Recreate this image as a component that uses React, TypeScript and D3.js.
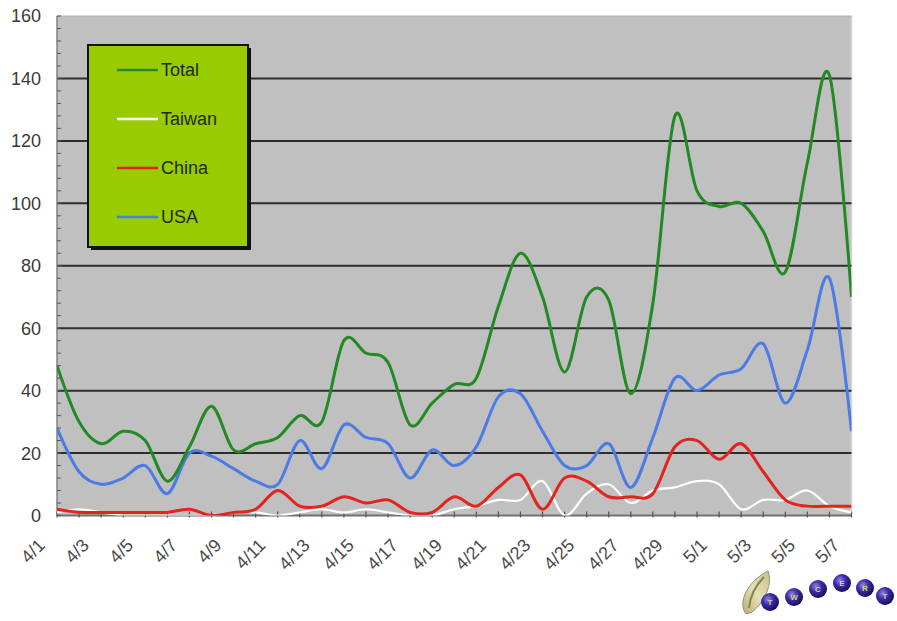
import React from "react";
import * as d3 from "d3";

// Daily counts, 4/1 – 5/7
const dates = [
  "4/1","4/2","4/3","4/4","4/5","4/6","4/7","4/8","4/9","4/10",
  "4/11","4/12","4/13","4/14","4/15","4/16","4/17","4/18","4/19","4/20",
  "4/21","4/22","4/23","4/24","4/25","4/26","4/27","4/28","4/29","4/30",
  "5/1","5/2","5/3","5/4","5/5","5/6","5/7",
];
const total = [48,30,23,27,24,11,22,35,21,23,25,32,30,56,52,49,29,36,42,44,67,84,70,46,70,69,39,68,128,104,99,100,91,78,113,141,70];
const taiwan = [1,2,1,0,0,0,0,0,1,1,0,1,2,1,2,1,0,0,2,3,5,5,11,0,7,10,4,8,9,11,10,2,5,5,8,3,1];
const china = [2,1,1,1,1,1,2,0,1,2,8,3,3,6,4,5,1,1,6,3,9,13,2,12,11,6,6,7,22,24,18,23,14,5,3,3,3];
const usa = [28,14,10,12,16,7,20,19,15,11,10,24,15,29,25,23,12,21,16,22,38,39,27,16,16,23,9,25,44,40,45,47,55,36,53,76,27];

const yTicks = [0, 20, 40, 60, 80, 100, 120, 140, 160];
const yMinor = d3.range(0, 161, 4);
const xLabels = dates.filter((_, i) => i % 2 === 0);

const seriesNames = ["Total", "Taiwan", "China", "USA"];
const seriesValues = [total, taiwan, china, usa];
const seriesColors = ["#238a23", "#ffffff", "#e3231d", "#4b7be4"];
const seriesWidths = [3, 2.2, 3, 3];

const logoLetters = ["T", "W", "C", "E", "R", "T"];

const W = 897;
const H = 621;
const left = 57;
const right = 851.5;
const top = 16;
const bottom = 515.5;

export default function App() {
  const x = d3.scalePoint<string>().domain(dates).range([left, right]);
  const y = d3.scaleLinear().domain([0, 160]).range([bottom, top]);
  const line = d3
    .line<number>()
    .x((_, i) => x(dates[i]) as number)
    .y((d) => y(d))
    .curve(d3.curveCardinal.tension(0));

  const font = "'Liberation Sans', Arial, sans-serif";
  const drawOrder = [1, 2, 3, 0];

  // logo ball centres
  const balls = [
    [770, 602],
    [794, 597],
    [818, 589],
    [842, 583],
    [865, 588],
    [885, 596],
  ];

  return (
    <svg
      width={W}
      height={H}
      style={{ position: "absolute", left: 0, top: 0, background: "#fff" }}
    >
      <defs>
        <clipPath id="plot">
          <rect x={left} y={top} width={right - left} height={bottom - top} />
        </clipPath>
        <radialGradient id="ball" cx="0.38" cy="0.35" r="0.7">
          <stop offset="0" stopColor="#8f86e6" />
          <stop offset="0.45" stopColor="#3a2ca8" />
          <stop offset="1" stopColor="#120a52" />
        </radialGradient>
        <linearGradient id="island" x1="0" y1="1" x2="1" y2="0">
          <stop offset="0" stopColor="#b9ad7a" />
          <stop offset="0.5" stopColor="#e6dfb8" />
          <stop offset="1" stopColor="#c9c08e" />
        </linearGradient>
      </defs>

      {/* plot background */}
      <rect x={left} y={top} width={right - left} height={bottom - top} fill="#c0c0c0" />
      <line x1={right} x2={right} y1={top} y2={bottom} stroke="#d6d6d6" strokeWidth={1.5} />
      <line x1={left} x2={right} y1={top} y2={top} stroke="#b0b0b0" strokeWidth={1} />

      {/* horizontal gridlines */}
      {yTicks
        .filter((t) => t > 0 && t < 160)
        .map((t) => (
          <line
            key={t}
            x1={left}
            x2={right}
            y1={y(t)}
            y2={y(t)}
            stroke="#2e2e2e"
            strokeWidth={2}
          />
        ))}

      {/* axes */}
      <line x1={left} x2={left} y1={top} y2={bottom} stroke="#808080" strokeWidth={1.5} />
      <line x1={left} x2={right} y1={bottom} y2={bottom} stroke="#707070" strokeWidth={2} />
      {yMinor.map((t) => (
        <line
          key={"m" + t}
          x1={left}
          x2={left + 4}
          y1={y(t)}
          y2={y(t)}
          stroke="#555"
          strokeWidth={1}
        />
      ))}
      {dates.map((d) => (
        <line
          key={"xt" + d}
          x1={x(d)}
          x2={x(d)}
          y1={bottom - 4}
          y2={bottom + 2}
          stroke="#555"
          strokeWidth={1.2}
        />
      ))}

      {/* series */}
      <g clipPath="url(#plot)">
        {drawOrder.map((k) => (
          <path
            key={seriesNames[k]}
            d={line(seriesValues[k]) || ""}
            fill="none"
            stroke={seriesColors[k]}
            strokeWidth={seriesWidths[k]}
            strokeLinejoin="round"
          />
        ))}
      </g>

      {/* y labels */}
      {yTicks.map((t) => (
        <text
          key={"yl" + t}
          x={41}
          y={y(t)}
          dy="0.36em"
          textAnchor="end"
          fontFamily={font}
          fontSize={18}
          fill="#3a3a3a"
        >
          {t}
        </text>
      ))}

      {/* x labels */}
      {xLabels.map((d) => (
        <text
          key={"xl" + d}
          transform={`translate(${(x(d) as number) - 11},${bottom + 31}) rotate(-45)`}
          textAnchor="end"
          fontFamily={font}
          fontSize={18}
          fill="#4a4a4a"
        >
          {d}
        </text>
      ))}

      {/* legend */}
      <rect x={91} y={48} width={160} height={202} fill="#111" />
      <rect x={88} y={45} width={160} height={202} fill="#99cc00" stroke="#111" strokeWidth={2} />
      {seriesNames.map((n, i) => {
        const ly = 70 + i * 49;
        return (
          <g key={"lg" + n}>
            <line
              x1={117}
              x2={158}
              y1={ly}
              y2={ly}
              stroke={seriesColors[i]}
              strokeWidth={2.5}
            />
            <text
              x={161}
              y={ly}
              dy="0.36em"
              fontFamily={font}
              fontSize={18}
              fill="#1f2a10"
            >
              {n}
            </text>
          </g>
        );
      })}

      {/* logo */}
      <path
        d="M746,614 C737,602 748,581 768,571 C773,583 765,602 752,612 Z"
        fill="url(#island)"
        stroke="#9a9062"
        strokeWidth={1}
      />
      <path d="M749,608 C750,596 756,585 764,577" fill="none" stroke="#7d8a46" strokeWidth={2} />
      {balls.map(([cx, cy], i) => (
        <g key={"b" + i}>
          <circle cx={cx} cy={cy} r={9} fill="url(#ball)" />
          <text
            x={cx}
            y={cy}
            dy="0.35em"
            textAnchor="middle"
            fontFamily={font}
            fontSize={8}
            fontWeight="bold"
            fill="#d8d07a"
          >
            {logoLetters[i]}
          </text>
        </g>
      ))}
    </svg>
  );
}
